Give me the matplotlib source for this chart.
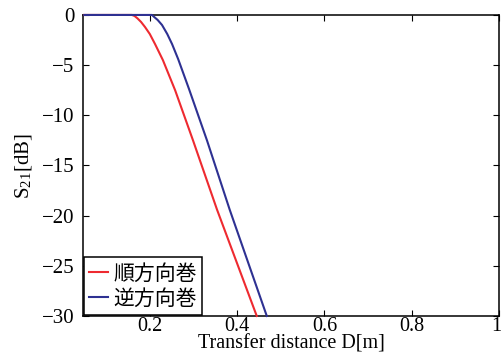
import matplotlib
matplotlib.use("Agg")
import matplotlib.pyplot as plt
import matplotlib.transforms as mtransforms

# data
red_x = [0.05, 0.159, 0.165, 0.172, 0.180, 0.189, 0.200, 0.212, 0.230, 0.258, 0.299, 0.354, 0.445]
red_y = [0, 0, -0.1, -0.35, -0.7, -1.2, -1.9, -2.9, -4.5, -7.5, -12.5, -19.4, -30]
blue_x = [0.05, 0.205, 0.210, 0.218, 0.228, 0.240, 0.251, 0.265, 0.290, 0.331, 0.383, 0.468]
blue_y = [0, 0, -0.2, -0.5, -1.0, -1.9, -2.9, -4.4, -7.4, -12.5, -19.4, -30]
labels = ["順方向巻", "逆方向巻"]
xticks = [0.2, 0.4, 0.6, 0.8, 1]
xticklabels = ["0.2", "0.4", "0.6", "0.8", "1"]
yticks = [0, -5, -10, -15, -20, -25, -30]

plt.rcParams['font.family'] = ['Liberation Serif', 'DejaVu Serif']
plt.rcParams['mathtext.fontset'] = 'stix'

fig = plt.figure(figsize=(5.01, 3.56), dpi=100)
ax = fig.add_axes([0.1657, 0.1124, 0.8303, 0.8456])

ax.plot(red_x, red_y, color='#ee2a30', lw=1.5, label=labels[0], clip_on=False, zorder=3)
ax.plot(blue_x, blue_y, color='#2e3192', lw=1.5, label=labels[1], clip_on=False, zorder=3)

ax.set_xlim(0.047, 1)
ax.set_ylim(-30, 0)
ax.set_xticks(xticks)
ax.set_xticklabels(xticklabels)
ax.set_yticks(yticks)
ax.tick_params(direction='in', top=True, right=True, labelsize=15, length=4, width=0.8)
ax.tick_params(axis='x', labelsize=14.5, pad=1)
ax.tick_params(axis='y', pad=6)
for s in ax.spines.values():
    s.set_linewidth(1.1)

# keep the last x tick label inside the figure
last = ax.get_xticklabels()[-1]
last.set_transform(last.get_transform() + mtransforms.ScaledTranslation(-3 / 100, 0, fig.dpi_scale_trans))

ax.set_xlabel("Transfer distance D[m]", fontsize=14.5, labelpad=-1)
ax.set_ylabel(r"S$_{\mathregular{21}}$[dB]", fontsize=15, labelpad=6)

leg = ax.legend(loc='lower left', prop={'family': ['Noto Sans CJK JP'], 'size': 15},
                handlelength=0.9, handletextpad=0.25, borderpad=0.25, labelspacing=0.15,
                borderaxespad=0.05, fancybox=False, framealpha=1)
leg.get_frame().set_edgecolor('black')
leg.get_frame().set_linewidth(1.1)

fig.savefig("out.png", dpi=100)
